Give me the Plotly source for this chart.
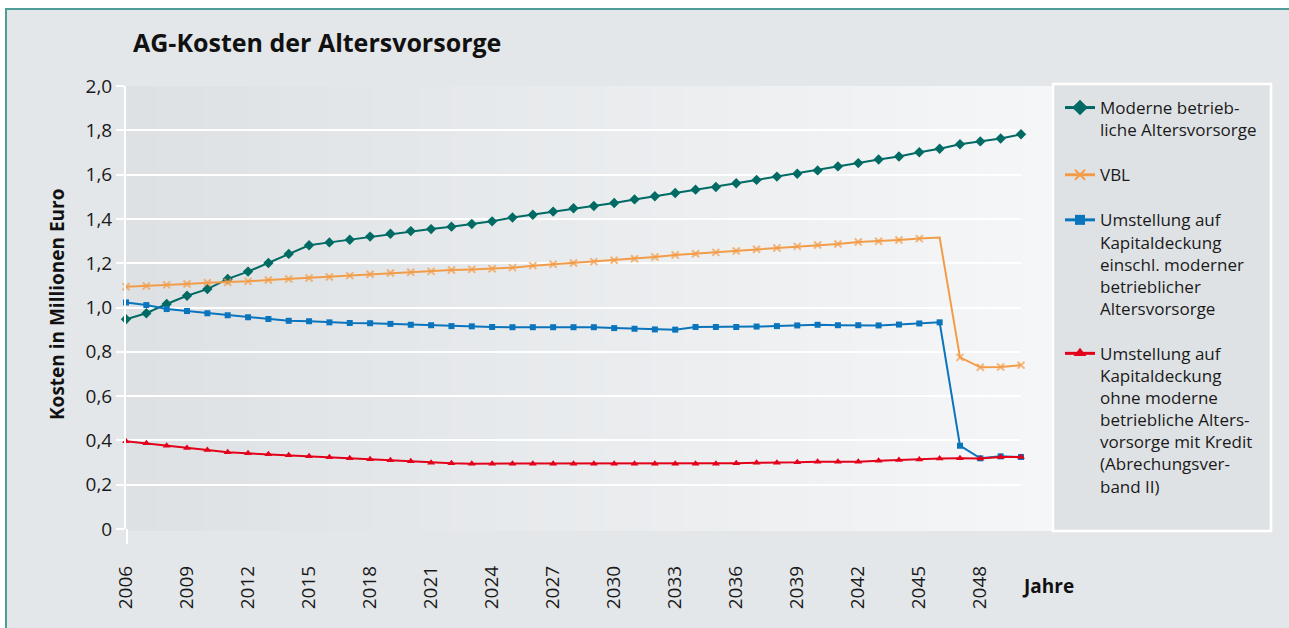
import plotly.graph_objects as go

# ---------------------------------------------------------------- data
years = list(range(2006, 2051))
year_ticks = [2006, 2009, 2012, 2015, 2018, 2021, 2024, 2027, 2030,
              2033, 2036, 2039, 2042, 2045, 2048]
y_ticks = [0, 0.2, 0.4, 0.6, 0.8, 1.0, 1.2, 1.4, 1.6, 1.8, 2.0]
y_tick_text = ["0", "0,2", "0,4", "0,6", "0,8", "1,0", "1,2", "1,4", "1,6", "1,8", "2,0"]

moderne_bav = [0.947, 0.974, 1.016, 1.053, 1.083, 1.129, 1.162, 1.201, 1.242, 1.281,
               1.294, 1.306, 1.320, 1.333, 1.345, 1.354, 1.365, 1.377, 1.389, 1.406,
               1.419, 1.433, 1.448, 1.458, 1.472, 1.488, 1.502, 1.517, 1.532, 1.544,
               1.561, 1.576, 1.591, 1.604, 1.619, 1.637, 1.652, 1.668, 1.682, 1.701,
               1.717, 1.737, 1.750, 1.763, 1.782]

vbl = [1.094, 1.097, 1.102, 1.106, 1.112, 1.114, 1.118, 1.124, 1.129, 1.133,
       1.138, 1.144, 1.150, 1.156, 1.159, 1.163, 1.169, 1.172, 1.175, 1.180,
       1.189, 1.195, 1.201, 1.207, 1.213, 1.220, 1.228, 1.237, 1.243, 1.249,
       1.255, 1.263, 1.269, 1.276, 1.282, 1.287, 1.296, 1.299, 1.305, 1.311,
       1.316, 0.775, 0.730, 0.731, 0.740]

kapital_mit_bav = [1.023, 1.011, 0.993, 0.984, 0.974, 0.965, 0.956, 0.948, 0.940, 0.938,
                   0.933, 0.930, 0.929, 0.926, 0.922, 0.920, 0.916, 0.915, 0.912, 0.911,
                   0.911, 0.911, 0.911, 0.911, 0.907, 0.904, 0.901, 0.900, 0.912, 0.912,
                   0.912, 0.914, 0.916, 0.919, 0.922, 0.920, 0.920, 0.919, 0.923, 0.928,
                   0.933, 0.376, 0.319, 0.328, 0.325]

kapital_kredit = [0.396, 0.387, 0.376, 0.366, 0.357, 0.346, 0.342, 0.337, 0.333, 0.328,
                  0.324, 0.319, 0.315, 0.310, 0.306, 0.299, 0.297, 0.295, 0.295, 0.295,
                  0.295, 0.295, 0.295, 0.295, 0.295, 0.295, 0.295, 0.295, 0.295, 0.295,
                  0.297, 0.299, 0.299, 0.301, 0.304, 0.304, 0.304, 0.308, 0.312, 0.314,
                  0.318, 0.319, 0.318, 0.325, 0.325]

# year without a marker on the VBL line (corner before the drop)
vbl_no_marker_year = 2046

labels = [
    "Moderne betrieb-<br>liche Altersvorsorge",
    "VBL",
    "Umstellung auf<br>Kapitaldeckung<br>einschl. moderner<br>betrieblicher<br>Altersvorsorge",
    "Umstellung auf<br>Kapitaldeckung<br>ohne moderne<br>betriebliche Alters-<br>vorsorge mit Kredit<br>(Abrechungsver-<br>band II)",
]

# ---------------------------------------------------------------- geometry
FIG_W, FIG_H = 1289, 628
PLOT_L, PLOT_R, PLOT_T, PLOT_B = 126, 1021, 86, 529
FONT = "Open Sans"
TXT = "#1a1a1a"

def xp(px):
    return (px - PLOT_L) / (PLOT_R - PLOT_L)

def yp(py):
    return (PLOT_B - py) / (PLOT_B - PLOT_T)

TEAL = "#006a64"
ORANGE = "#f39c48"
BLUE = "#0a74bc"
RED = "#e2001a"

fig = go.Figure()

series = [
    (moderne_bav, TEAL, dict(symbol="diamond", size=8, color=TEAL),
     dict(symbol="diamond", size=12, color=TEAL)),
    (vbl, ORANGE,
     dict(symbol="x-thin", size=[0 if yr == vbl_no_marker_year else 7 for yr in years],
          color=ORANGE, line=dict(color=ORANGE, width=2)),
     dict(symbol="x-thin", size=10, color=ORANGE, line=dict(color=ORANGE, width=2))),
    (kapital_mit_bav, BLUE, dict(symbol="square", size=6, color=BLUE),
     dict(symbol="square", size=10, color=BLUE)),
    (kapital_kredit, RED, dict(symbol="triangle-up", size=7, color=RED),
     dict(symbol="triangle-up", size=11, color=RED)),
]

for i, (vals, col, mk, legmk) in enumerate(series):
    fig.add_trace(go.Scatter(
        x=years, y=vals, mode="lines+markers",
        line=dict(color=col, width=2), marker=mk,
        showlegend=False, cliponaxis=False, hoverinfo="x+y",
    ))

for i, (vals, col, mk, legmk) in enumerate(series):
    fig.add_trace(go.Scatter(
        x=[None], y=[None], mode="lines+markers", name=labels[i],
        line=dict(color=col, width=3), marker=legmk,
        legendgroup=f"g{i}", showlegend=True,
    ))

# ---------------------------------------------------------------- background shapes
shapes = []
# outer frame
shapes.append(dict(type="rect", xref="paper", yref="paper", layer="below",
                   x0=xp(6), x1=xp(1300), y0=yp(9), y1=yp(640),
                   fillcolor="#e4e7ea", line=dict(color="#4f9c99", width=2)))
# horizontal gradient behind the plot area
n_strips = 60
c0 = (0xdd, 0xe1, 0xe4)
c1 = (0xf5, 0xf6, 0xf7)
g_left, g_right = PLOT_L, 1053
for k in range(n_strips):
    t = k / (n_strips - 1)
    c = tuple(round(c0[j] + (c1[j] - c0[j]) * t) for j in range(3))
    xa = g_left + (g_right - g_left) * k / n_strips
    xb = g_left + (g_right - g_left) * (k + 1) / n_strips + 0.6
    shapes.append(dict(type="rect", xref="paper", yref="paper", layer="below",
                       x0=xp(xa), x1=xp(xb), y0=yp(86), y1=yp(531),
                       fillcolor="rgb(%d,%d,%d)" % c, line=dict(width=0)))
# legend box
shapes.append(dict(type="rect", xref="paper", yref="paper", layer="below",
                   x0=xp(1053), x1=xp(1271), y0=yp(84), y1=yp(531),
                   fillcolor="#dfe2e5", line=dict(color="white", width=2.5)))
# y axis line running past the zero line
shapes.append(dict(type="line", xref="paper", yref="paper",
                   x0=xp(127), x1=xp(127), y0=yp(529), y1=yp(544),
                   line=dict(color="white", width=2)))

annotations = [
    dict(text="<b>AG-Kosten der Altersvorsorge</b>", xref="paper", yref="paper",
         x=xp(131), y=yp(42), xanchor="left", yanchor="middle", showarrow=False,
         font=dict(family=FONT, size=25, color="#111")),
    dict(text="<b>Kosten in Millionen Euro</b>", xref="paper", yref="paper",
         x=xp(57), y=yp(305), xanchor="center", yanchor="middle", textangle=-90,
         showarrow=False, font=dict(family=FONT, size=19, color="#111")),
    dict(text="<b>Jahre</b>", xref="paper", yref="paper",
         x=xp(1020), y=yp(586), xanchor="left", yanchor="middle", showarrow=False,
         font=dict(family=FONT, size=19, color="#111")),
]

fig.update_layout(
    width=FIG_W, height=FIG_H,
    margin=dict(l=PLOT_L, r=FIG_W - PLOT_R, t=PLOT_T, b=FIG_H - PLOT_B, pad=0),
    paper_bgcolor="white", plot_bgcolor="rgba(0,0,0,0)",
    font=dict(family=FONT, color=TXT),
    shapes=shapes, annotations=annotations,
    showlegend=True,
    legend=dict(x=xp(1060), y=yp(90), xanchor="left", yanchor="top",
                bgcolor="rgba(0,0,0,0)", borderwidth=0,
                font=dict(family=FONT, size=17, color=TXT),
                tracegroupgap=20, valign="top", itemwidth=30,
                traceorder="grouped"),
    xaxis=dict(range=[2006, 2050], tickmode="array", tickvals=year_ticks,
               tickangle=-90, showgrid=False, zeroline=False, showline=False,
               ticks="", ticklabelstandoff=32,
               tickfont=dict(family=FONT, size=19, color=TXT)),
    yaxis=dict(range=[0, 2.0], tickmode="array", tickvals=y_ticks, ticktext=y_tick_text,
               showgrid=True, gridcolor="white", gridwidth=2, zeroline=False,
               showline=True, linecolor="white", linewidth=2,
               ticks="outside", ticklen=8, tickcolor="white", tickwidth=2,
               tickfont=dict(family=FONT, size=19, color=TXT)),
)

fig.write_html("out.html")
